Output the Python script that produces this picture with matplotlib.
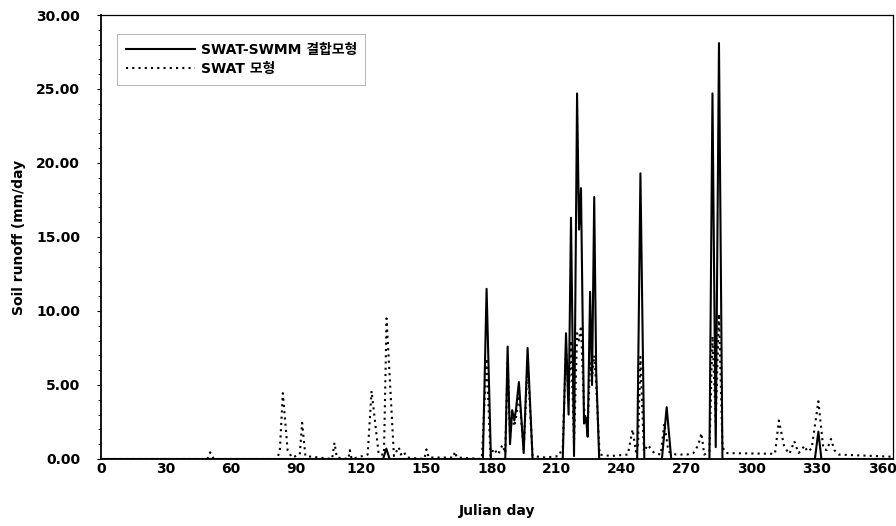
import matplotlib
matplotlib.use("Agg")
import matplotlib.pyplot as plt
from matplotlib.ticker import MultipleLocator, FormatStrFormatter

plt.rcParams['font.family'] = ['DejaVu Sans', 'Noto Sans CJK KR']
plt.rcParams['font.weight'] = 'bold'

# SWAT-SWMM coupled model (solid) : day / runoff vertices
coupled_days = [0, 130, 131.5, 133, 176, 177.7, 179.7, 186.3, 187.4, 188.5, 189.5,
                190.5, 191.3, 192.6, 194.8, 196.6, 198.9, 212.8, 214.3, 215.5, 216.6,
                218, 219.4, 220.3, 221.2, 222.6, 223.5, 224.3, 225.4, 226.3, 227.3,
                228.2, 229.6, 247.1, 248.6, 250.4, 258.5, 260.7, 262.8, 280.4, 281.8,
                283.3, 284.8, 286.4, 329, 330.6, 332, 365]
coupled_vals = [0, 0, 0.7, 0, 0, 11.5, 0, 0, 7.6, 1.0, 3.3,
                2.6, 3.4, 5.2, 0.4, 7.5, 0, 0, 8.5, 3.0, 16.3,
                0.2, 24.7, 15.5, 18.3, 2.4, 2.8, 1.5, 11.3, 5.0, 17.7,
                6.0, 0, 0, 19.3, 0, 0, 3.5, 0, 0, 24.7,
                0.8, 28.1, 0, 0, 1.85, 0, 0]

# SWAT model (dotted)
swat_days = [0, 49, 50.3, 52, 81, 82.4, 83.8, 86, 88, 91.6, 92.7, 94.2, 106.5, 107.6,
             108.7, 114, 114.7, 115.5, 122.9, 124.7, 128, 130.4, 131.6, 135, 137.2,
             138.2, 139.5, 141, 149, 150, 151, 162.5, 163, 164, 175.5, 177.7, 179.5,
             181, 183, 185, 186.3, 187.4, 188.5, 189.5, 190.5, 191.5, 192.6, 194.8,
             196.6, 198.9, 205, 211, 212.8, 214.3, 215.5, 216.6, 218, 219.4, 220.3,
             221.2, 222.6, 223.5, 224.3, 225.4, 226.3, 227.3, 228.2, 229.8, 235,
             242.8, 245, 246.5, 247.5, 248.6, 250.2, 252, 255, 258, 259.6, 261.5,
             265, 270, 273, 275.3, 276.7, 278, 280.4, 281.8, 283.3, 284.8, 286.4,
             288, 310.6, 312.4, 314.9, 317.3, 319.5, 321.5, 324.3, 325.5, 327.5,
             330.6, 332.9, 334.5, 336.4, 338, 340, 365]
swat_vals = [0, 0, 0.45, 0, 0, 0.5, 4.45, 0.6, 0.1, 0.3, 2.45, 0.2, 0, 1.1,
             0.1, 0, 0.6, 0, 0.3, 4.6, 0.3, 0.3, 9.5, 0.2, 0.8,
             0.3, 0.5, 0.1, 0, 0.65, 0.1, 0.1, 0.5, 0.1, 0, 6.8, 0.2,
             0.7, 0.3, 0.95, 0.4, 6.5, 1.5, 3.0, 2.2, 3.0, 4.5, 0.6,
             6.5, 0.2, 0.1, 0.2, 0.8, 7.5, 4.0, 8.0, 1.0, 8.5, 8.0,
             9.0, 3.5, 2.5, 2.0, 6.5, 5.5, 7.0, 5.0, 0.3, 0.2,
             0.3, 2.0, 0.5, 1.0, 6.9, 0.5, 0.95, 0.4, 0.3, 2.4, 0.5,
             0.3, 0.3, 0.4, 0.95, 1.75, 0.3, 0.5, 8.3, 2.5, 9.8, 0.8,
             0.4, 0.35, 2.6, 0.8, 0.35, 1.2, 0.4, 0.9, 0.5, 0.7,
             3.9, 0.7, 0.6, 1.35, 0.6, 0.3, 0.15]

x_ticks = list(range(0, 361, 30))
label_coupled = "SWAT-SWMM 결합모형"
label_swat = "SWAT 모형"

fig = plt.figure(figsize=(8.96, 5.26), dpi=100)
ax = fig.add_axes([101/896, 1-459/526, (893-101)/896, (459-15)/526])

ax.plot(coupled_days, coupled_vals, color='black', lw=1.5, ls='-', label=label_coupled)
ax.plot(swat_days, swat_vals, color='black', lw=1.5, ls=(0, (1, 2)), label=label_swat)

ax.set_xlim(0, 365)
ax.set_ylim(0, 30)
ax.set_xticks(x_ticks)
ax.yaxis.set_major_locator(MultipleLocator(5))
ax.yaxis.set_minor_locator(MultipleLocator(1))
ax.yaxis.set_major_formatter(FormatStrFormatter('%.2f'))
ax.tick_params(axis='y', which='major', length=3, pad=12, labelsize=10)
ax.tick_params(axis='y', which='minor', length=2)
ax.tick_params(axis='x', which='major', length=0, pad=2, labelsize=10)
for lab in ax.get_xticklabels() + ax.get_yticklabels():
    lab.set_fontweight('bold')

for s in ['left', 'bottom']:
    ax.spines[s].set_linewidth(1.3)
for s in ['top', 'right']:
    ax.spines[s].set_linewidth(0.9)

ax.set_xlabel("Julian day", fontsize=10, fontweight='bold', labelpad=20)
ax.set_ylabel("Soil runoff (mm/day", fontsize=10, fontweight='bold', labelpad=7)

leg = ax.legend(loc='upper left', bbox_to_anchor=(0.012, 0.972), handlelength=5.0,
                frameon=True, fancybox=False, edgecolor='#aaaaaa', framealpha=1,
                borderpad=0.6, labelspacing=0.4, handletextpad=0.4,
                prop={'weight': 'bold', 'size': 10})
leg.get_frame().set_linewidth(0.6)

fig.savefig("out.png", dpi=100)
